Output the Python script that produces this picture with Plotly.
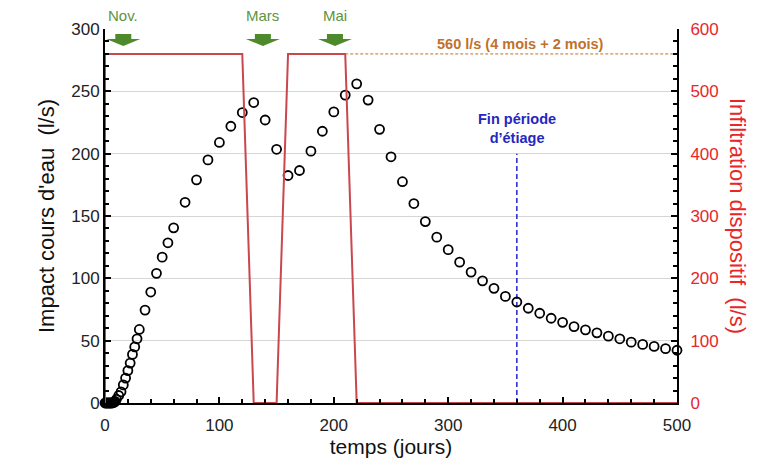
import plotly.graph_objects as go

# impact on the stream (l/s), left axis
days = [0, 1, 2, 3, 4, 5, 6, 7, 8, 9, 10, 12, 14, 16, 18, 20, 22, 24, 26, 28, 30,
        35, 40, 45, 50, 55, 60, 70, 80, 90, 100, 110, 120, 130, 140, 150, 160, 170,
        180, 190, 200, 210, 220, 230, 240, 250, 260, 270, 280, 290, 300, 310, 320,
        330, 340, 350, 360, 370, 380, 390, 400, 410, 420, 430, 440, 450, 460, 470,
        480, 490, 500]
impact = [0, 0, 0, 0, 0, 0, 0, 0.2, 0.6, 1.2, 3, 6, 9, 14.5, 20, 26, 32, 39, 45, 51.5, 59,
          74.5, 89, 104, 117, 128.5, 140.5, 161, 179, 195, 209, 222, 233, 241, 227, 203.5,
          182.5, 186.5, 202, 218, 233.5, 247, 256, 243, 219.5, 197.5, 177.5, 160, 145.5,
          133, 123, 113, 105, 98, 92, 85.5, 81, 76, 72, 68, 64.7, 61.3, 58.7, 56.3, 53.6,
          51.5, 48.8, 47, 45.4, 43.6, 42.3]

# infiltration of the device (l/s), right axis
infil_days = [0, 0, 120, 130, 150, 160, 210, 220, 500]
infil_rate = [0, 560, 560, 0, 0, 560, 560, 0, 0]

months = ['Nov.', 'Mars', 'Mai']
month_days = [16, 138, 201]

end_low_water = 360

fig = go.Figure()

fig.add_trace(go.Scatter(x=infil_days, y=infil_rate, mode='lines', yaxis='y2',
                         line=dict(color='#C9474F', width=2), cliponaxis=False,
                         showlegend=False))
fig.add_trace(go.Scatter(x=[infil_days[6], infil_days[-1]], y=[560, 560], mode='lines',
                         yaxis='y2', line=dict(color='#C0712C', width=1, dash='3px,2px'),
                         showlegend=False))
fig.add_trace(go.Scatter(x=[end_low_water, end_low_water], y=[0, 200], mode='lines',
                         line=dict(color='#2626C0', width=1.5, dash='5px,3px'),
                         showlegend=False))
fig.add_trace(go.Scatter(x=days, y=impact, mode='markers', cliponaxis=False,
                         marker=dict(symbol='circle-open', size=9, color='black',
                                     line=dict(width=1.8, color='black')),
                         showlegend=False))

font = 'Liberation Sans, Arial, sans-serif'

# green arrows for the months
arrow = 'M -8 -5 L 8 -5 L 8 -10 L 17 -10 L 0 -17 L -17 -10 L -8 -10 Z'
for name, d in zip(months, month_days):
    fig.add_shape(type='path', path=arrow, xref='x', yref='y', xsizemode='pixel',
                  ysizemode='pixel', xanchor=d, yanchor=300,
                  fillcolor='#4E8A2C', line=dict(width=0))
    fig.add_annotation(x=d, y=300, text=name, showarrow=False, yanchor='bottom',
                       yshift=3, font=dict(family=font, size=15, color='#5E9440'))

fig.add_annotation(x=363, y=560, yref='y2', text='<b>560 l/s (4 mois + 2 mois)</b>',
                   showarrow=False, yanchor='bottom', yshift=0,
                   font=dict(family=font, size=14.5, color='#C0712C'))
fig.add_annotation(x=end_low_water, y=200, text='<b>Fin période<br>d’étiage</b>',
                   showarrow=False, yanchor='bottom', yshift=6,
                   font=dict(family=font, size=14.5, color='#2626C0'))
fig.add_annotation(x=1, y=0.5, xref='paper', yref='paper', xshift=61, xanchor='center',
                   text='Infiltration dispositif  (l/s)', textangle=90,
                   showarrow=False, font=dict(family=font, size=22, color='#E8262A'))

# page body adds ~8px offset, so the figure is a bit smaller than the window
fig.update_layout(
    width=760, height=461,
    margin=dict(l=97, r=91, t=17, b=66),
    paper_bgcolor='white', plot_bgcolor='white',
    font=dict(family=font, size=17, color='#222'),
    xaxis=dict(
        range=[0, 500], dtick=100, ticks='inside', ticklen=6, tickwidth=1.5,
        tickcolor='black', showline=True, linecolor='black', linewidth=2,
        showgrid=False, zeroline=False, ticklabelstandoff=6,
        minor=dict(dtick=20, ticks='inside', ticklen=4, tickcolor='black'),
        title=dict(text='temps (jours)', font=dict(size=21, color='#111'), standoff=4),
    ),
    yaxis=dict(
        range=[0, 300], dtick=50, ticks='inside', ticklen=6, tickwidth=1.5,
        tickcolor='black', showline=True, linecolor='black', linewidth=2,
        showgrid=True, gridcolor='#D6D6D6', gridwidth=1, zeroline=False,
        minor=dict(dtick=10, ticks='inside', ticklen=4, tickcolor='black'),
        title=dict(text='Impact cours d\'eau  (l/s)', font=dict(size=22, color='#111'),
                   standoff=11),
    ),
    yaxis2=dict(
        range=[0, 600], dtick=100, overlaying='y', side='right', ticks='inside',
        ticklen=6, tickwidth=1.5, tickcolor='black', showline=True, linecolor='black',
        linewidth=2, showgrid=False, zeroline=False, ticklabelstandoff=8,
        tickfont=dict(color='#E8262A'),
        minor=dict(dtick=20, ticks='inside', ticklen=4, tickcolor='black'),
    ),
)

fig.write_html("out.html")
